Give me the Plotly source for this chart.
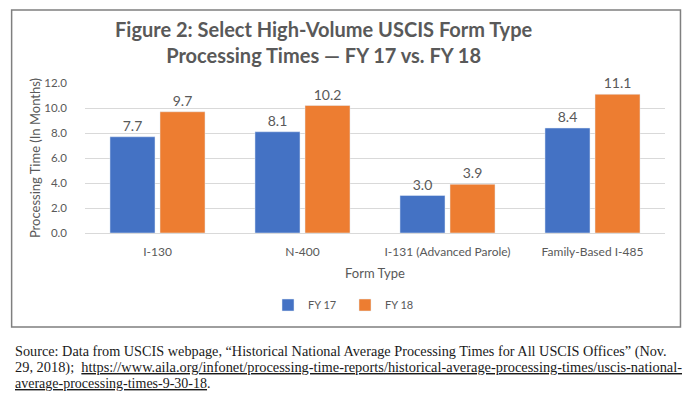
import plotly.graph_objects as go

categories = ["I-130", "N-400", "I-131 (Advanced Parole)", "Family-Based I-485"]
fy17 = [7.7, 8.1, 3.0, 8.4]
fy18 = [9.7, 10.2, 3.9, 11.1]
series_names = ["FY 17", "FY 18"]
tick_vals = [0, 2, 4, 6, 8, 10, 12]
tick_text = ["0.0", "2.0", "4.0", "6.0", "8.0", "10.0", "12.0"]

# The page body has an 8px margin, so work in figure coords = reference - 8
OFF = 8
W, H = 692 - OFF, 399 - OFF
L, R, T, B = 84.5 - OFF, 665.5 - OFF, 83 - OFF, 233 - OFF  # plot area in figure pixels


def px(x):
    """reference page x -> paper fraction"""
    return (x - OFF - L) / (R - L)


def py(y):
    """reference page y -> paper fraction"""
    return (B - (y - OFF)) / (B - T)


GRAY = "#595959"
FONT = "Lato"

fig = go.Figure()
fig.add_trace(go.Bar(
    x=categories, y=fy17, name=series_names[0], marker_color="#4472C4",
    text=[f"{v:.1f}" for v in fy17], textposition="outside",
    textfont=dict(family=FONT, size=14, color=GRAY), cliponaxis=False,
))
fig.add_trace(go.Bar(
    x=categories, y=fy18, name=series_names[1], marker_color="#ED7D31",
    text=[f"{v:.1f}" for v in fy18], textposition="outside",
    textfont=dict(family=FONT, size=14, color=GRAY), cliponaxis=False,
))

fig.update_layout(
    width=W, height=H,
    margin=dict(l=L, r=W - R, t=T, b=H - B, autoexpand=False),
    paper_bgcolor="white", plot_bgcolor="white",
    barmode="group", bargap=0.31, bargroupgap=0.1,
    font=dict(family=FONT, color=GRAY),
    showlegend=True,
    legend=dict(orientation="h", xref="container", yref="container",
                x=(345 - OFF) / W, y=1 - (305 - OFF) / H, xanchor="center", yanchor="middle",
                font=dict(family=FONT, size=11, color=GRAY), itemwidth=30,
                entrywidth=32, entrywidthmode="pixels",
                traceorder="normal"),
    xaxis=dict(
        showgrid=False, showline=False, ticks="", automargin=False,
        tickfont=dict(family=FONT, size=12, color=GRAY), ticklabelstandoff=10,
        title=dict(text="Form Type", font=dict(family=FONT, size=13, color=GRAY), standoff=10),
    ),
    yaxis=dict(
        range=[0, 12], tickvals=tick_vals, ticktext=tick_text, automargin=False,
        showgrid=True, gridcolor="#D9D9D9", gridwidth=1, zeroline=True,
        zerolinecolor="#D9D9D9", zerolinewidth=1,
        tickfont=dict(family=FONT, size=11.5, color=GRAY), ticklabelstandoff=17,
        title=dict(text="Processing Time (In Months)", font=dict(family=FONT, size=13, color=GRAY), standoff=0),
    ),
)

# Title
fig.add_annotation(
    text="<b>Figure 2: Select High-Volume USCIS Form Type</b><br><b>Processing Times \u2014 FY 17 vs. FY 18</b>",
    xref="paper", yref="paper", x=px(324), y=py(42), xanchor="center", yanchor="middle",
    showarrow=False, font=dict(family=FONT, size=20, color=GRAY), align="center",
)

# Border around chart
fig.add_shape(type="rect", xref="paper", yref="paper",
              x0=px(11), x1=px(681), y0=py(327), y1=py(10),
              line=dict(color="#7F7F7F", width=1.5), fillcolor="rgba(0,0,0,0)", layer="above")

# Footer source text
SERIF = "Liberation Serif"
footer_lines = [
    "Source: Data from USCIS webpage, \u201cHistorical National Average Processing Times for All USCIS Offices\u201d (Nov.",
    "29, 2018);  <u>https://www.aila.org/infonet/processing-time-reports/historical-average-processing-times/uscis-national-</u>",
    "<u>average-processing-times-9-30-18</u>.",
]
footer_y = [351.5, 367.5, 383.5]
footer_size = [14.25, 14.4, 14]
for line, yy, fs in zip(footer_lines, footer_y, footer_size):
    fig.add_annotation(
        text=line, xref="paper", yref="paper", x=px(12), y=py(yy),
        xanchor="left", yanchor="middle", showarrow=False,
        font=dict(family=SERIF, size=fs, color="#1a1a1a"), align="left",
    )

fig.write_html("out.html")
